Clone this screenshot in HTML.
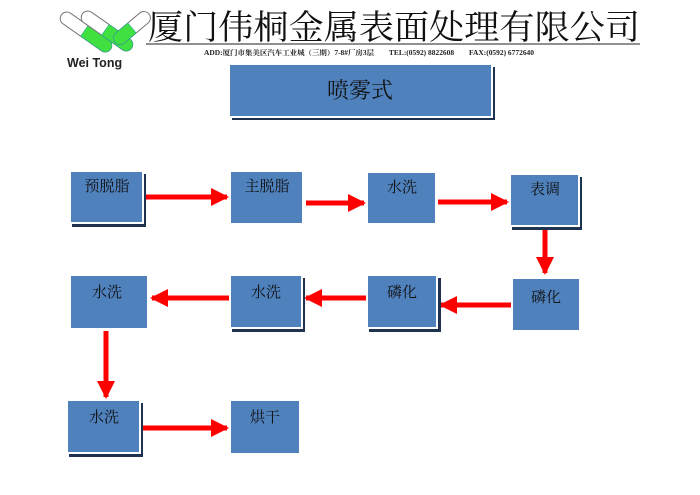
<!DOCTYPE html>
<html><head><meta charset="utf-8"><style>
body{margin:0;background:#fff;width:700px;height:495px;overflow:hidden}
svg{display:block}
text{font-family:"Liberation Serif","Noto Serif CJK SC","Noto Sans CJK SC",serif}
</style></head><body>
<svg width="700" height="495" viewBox="0 0 700 495">
<defs>
<marker id="a" markerWidth="4" markerHeight="4" refX="3.2" refY="2" orient="auto" markerUnits="strokeWidth"><path d="M0,0.2 L3.6,2 L0,3.8z" fill="#f00"/></marker>
<g id="cap"><rect x="-6.5" y="-30" width="13" height="60" rx="6.5" fill="#fff" stroke="#777" stroke-width="1"/><path d="M-6.5,-2 H6.5 V23.5 A6.5,6.5 0 0 1 -6.5,23.5z" fill="#3fe03f" stroke="#2a9" stroke-width="0.6"/></g>
<g id="cap3"><rect x="-6.5" y="-22" width="13" height="44" rx="6.5" fill="#fff" stroke="#777" stroke-width="1"/><path d="M-6.5,0 H6.5 V15.5 A6.5,6.5 0 0 1 -6.5,15.5z" fill="#3fe03f" stroke="#2a9" stroke-width="0.6"/></g>
</defs>
<!-- logo -->
<use href="#cap" transform="translate(86,32) rotate(-55)"/>
<use href="#cap" transform="translate(107,31) rotate(-55)"/>
<use href="#cap3" transform="translate(132,28) rotate(50)"/>
<text x="67" y="67" font-weight="bold" font-size="12.5" fill="#222" style="font-family:'Liberation Sans',sans-serif">Wei Tong</text>
<text x="148" y="39" font-size="34" fill="#111" textLength="492" lengthAdjust="spacingAndGlyphs" style="font-family:'Noto Serif CJK SC',serif">厦门伟桐金属表面处理有限公司</text>
<line x1="146" y1="44" x2="640" y2="44" stroke="#222" stroke-width="1"/>
<text x="204" y="55" font-size="7" font-weight="bold" fill="#222" textLength="330" lengthAdjust="spacingAndGlyphs">ADD:厦门市集美区汽车工业城（三期）7-8#厂房3层　　TEL:(0592) 8822608　　FAX:(0592) 6772640</text>
<!-- title -->
<rect x="232" y="67" width="263" height="53" fill="#1f3350"/>
<rect x="229" y="64" width="263" height="53" fill="#4f81bd" stroke="#fff" stroke-width="2"/>
<text x="360" y="98" font-size="22" text-anchor="middle" fill="#111">喷雾式</text>
<!-- arrows -->
<g stroke="#f00" stroke-width="5" marker-end="url(#a)">
<line x1="145" y1="197" x2="227" y2="197"/>
<line x1="306" y1="203" x2="364" y2="203"/>
<line x1="438" y1="202" x2="507" y2="202"/>
<line x1="545" y1="228" x2="545" y2="273"/>
<line x1="512" y1="305" x2="441" y2="305"/>
<line x1="367" y1="298" x2="306" y2="298"/>
<line x1="230" y1="298" x2="152" y2="298"/>
<line x1="106" y1="331" x2="106" y2="397"/>
<line x1="142" y1="428" x2="227" y2="428"/>
</g>
<!-- boxes -->
<g font-size="15" fill="#111" text-anchor="middle">
<g transform="translate(70,171)"><rect x="2" y="3" width="74" height="53" fill="#1f3350"/><rect width="73" height="52" fill="#4f81bd" stroke="#fff" stroke-width="2"/><text x="37" y="20">预脱脂</text></g>
<g transform="translate(230,171)"><rect width="73" height="53" fill="#4f81bd" stroke="#fff" stroke-width="2"/><text x="37" y="20">主脱脂</text></g>
<g transform="translate(367,172)"><rect width="69" height="52" fill="#4f81bd" stroke="#fff" stroke-width="2"/><text x="35" y="20">水洗</text></g>
<g transform="translate(510,174)"><rect x="2" y="3" width="70" height="53" fill="#1f3350"/><rect width="69" height="52" fill="#4f81bd" stroke="#fff" stroke-width="2"/><text x="35" y="20">表调</text></g>
<g transform="translate(70,275)"><rect width="78" height="54" fill="#4f81bd" stroke="#fff" stroke-width="2"/><text x="37" y="22">水洗</text></g>
<g transform="translate(230,275)"><rect x="2" y="3" width="73" height="54" fill="#1f3350"/><rect width="72" height="53" fill="#4f81bd" stroke="#fff" stroke-width="2"/><text x="36" y="22">水洗</text></g>
<g transform="translate(367,275)"><rect x="2" y="3" width="72" height="54" fill="#1f3350"/><rect width="70" height="53" fill="#4f81bd" stroke="#fff" stroke-width="2"/><text x="35" y="22">磷化</text></g>
<g transform="translate(512,278)"><rect width="68" height="53" fill="#4f81bd" stroke="#fff" stroke-width="2"/><text x="34" y="24">磷化</text></g>
<g transform="translate(67,400)"><rect x="2" y="3" width="74" height="54" fill="#1f3350"/><rect width="73" height="53" fill="#4f81bd" stroke="#fff" stroke-width="2"/><text x="37" y="22">水洗</text></g>
<g transform="translate(230,400)"><rect width="70" height="54" fill="#4f81bd" stroke="#fff" stroke-width="2"/><text x="35" y="22">烘干</text></g>
</g>
</svg>
</body></html>
